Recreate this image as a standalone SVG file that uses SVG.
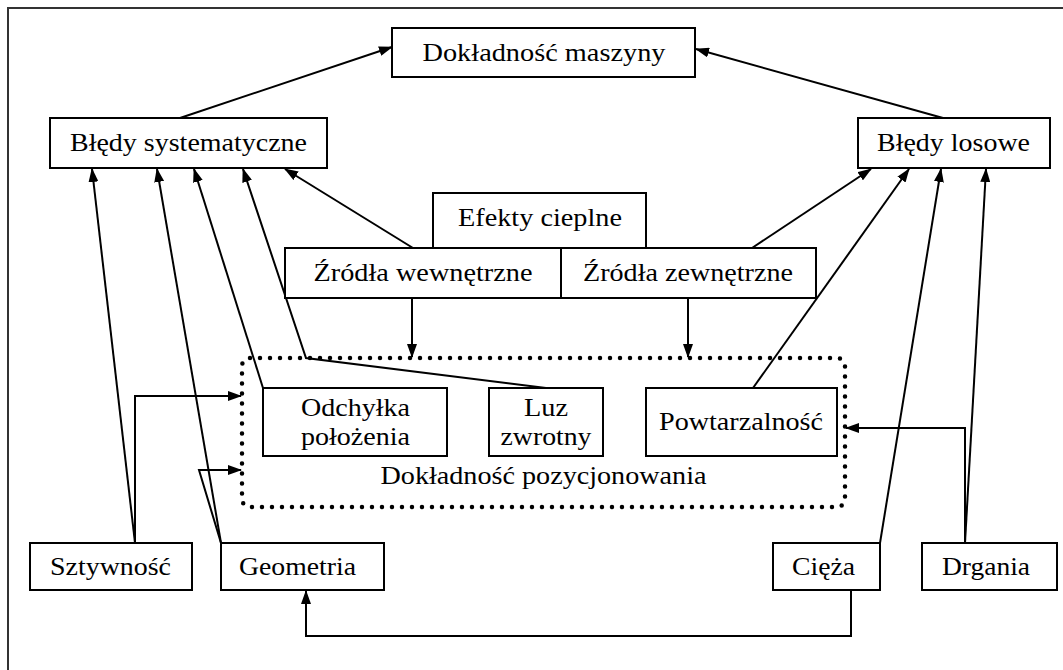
<svg xmlns="http://www.w3.org/2000/svg" width="1063" height="670" viewBox="0 0 1063 670">
<style>
.box{fill:#fff;stroke:#000;stroke-width:2}
text{font-family:'Liberation Serif','Times New Roman','DejaVu Serif',serif;font-size:26px;fill:#000;text-anchor:middle}
.c{fill:none;stroke:#000;stroke-width:2}
.a{marker-end:url(#ah)}
</style>
<defs>
<marker id="ah" markerUnits="userSpaceOnUse" markerWidth="14" markerHeight="10" refX="13" refY="5" orient="auto" viewBox="0 0 14 10">
<path d="M0,0 L14,5 L0,10 z" fill="#000"/>
</marker>
</defs>
<rect width="1063" height="670" fill="#fff"/>
<path d="M8,672 V8 H1066" fill="none" stroke="#333" stroke-width="2"/>

<g id="connectors">
<path class="c a" d="M180,118 L392,47"/>
<path class="c a" d="M943,118 L696,49"/>
<path class="c a" d="M135,543 L92,169"/>
<path class="c a" d="M135,543 V396 H241"/>
<path class="c a" d="M221,543 L157,169"/>
<path class="c a" d="M221,543 L199,470 H241"/>
<path class="c a" d="M263,388 L194,169"/>
<path class="c a" d="M546,388 L306,358 L243,169"/>
<path class="c a" d="M413,248 L285,169"/>
<path class="c a" d="M412,298 V357"/>
<path class="c a" d="M688,298 V357"/>
<path class="c a" d="M752,248 L871,169"/>
<path class="c a" d="M753,388 L909,169"/>
<path class="c a" d="M880,543 L941,169"/>
<path class="c a" d="M965,543 L986,169"/>
<path class="c a" d="M965,543 V428 H846"/>
<path class="c a" d="M851,590 V636 H306 V591"/>
</g>

<g font-family="'Liberation Serif', 'Times New Roman', serif">
<g id="dokladnosc-maszyny">
<rect class="box" x="392" y="28" width="303" height="49"/>
<text x="544" y="61" textLength="243" lengthAdjust="spacingAndGlyphs">Dokładność maszyny</text>
</g>
<g id="bledy-systematyczne">
<rect class="box" x="50" y="118" width="277" height="50"/>
<text x="188.5" y="151" textLength="237" lengthAdjust="spacingAndGlyphs">Błędy systematyczne</text>
</g>
<g id="bledy-losowe">
<rect class="box" x="858" y="118" width="192" height="50"/>
<text x="953.5" y="151" textLength="153" lengthAdjust="spacingAndGlyphs">Błędy losowe</text>
</g>
<g id="efekty-cieplne">
<rect class="box" x="433" y="193" width="213" height="55"/>
<text x="540" y="226" textLength="164" lengthAdjust="spacingAndGlyphs">Efekty cieplne</text>
</g>
<g id="zrodla-wewnetrzne">
<rect class="box" x="285" y="248" width="276" height="50"/>
<text x="423" y="281" textLength="219" lengthAdjust="spacingAndGlyphs">Źródła wewnętrzne</text>
</g>
<g id="zrodla-zewnetrzne">
<rect class="box" x="561" y="248" width="255" height="50"/>
<text x="688" y="281" textLength="210" lengthAdjust="spacingAndGlyphs">Źródła zewnętrzne</text>
</g>
<g id="dokladnosc-pozycjonowania">
<rect x="242" y="358" width="603" height="149" rx="8" fill="none" stroke="#000" stroke-width="4.5" stroke-linecap="round" stroke-dasharray="0 10"/>
<text x="543.5" y="484" textLength="326" lengthAdjust="spacingAndGlyphs">Dokładność pozycjonowania</text>
</g>
<g id="odchylka">
<rect class="box" x="263" y="388" width="184" height="68"/>
<text x="355.5" y="416" textLength="109" lengthAdjust="spacingAndGlyphs">Odchyłka</text>
<text x="355.5" y="445" textLength="109" lengthAdjust="spacingAndGlyphs">położenia</text>
</g>
<g id="luz-zwrotny">
<rect class="box" x="489" y="388" width="114" height="68"/>
<text x="546" y="416" textLength="44" lengthAdjust="spacingAndGlyphs">Luz</text>
<text x="546" y="445" textLength="91" lengthAdjust="spacingAndGlyphs">zwrotny</text>
</g>
<g id="powtarzalnosc">
<rect class="box" x="646" y="388" width="191" height="68"/>
<text x="741" y="430" textLength="164" lengthAdjust="spacingAndGlyphs">Powtarzalność</text>
</g>
<g id="sztywnosc">
<rect class="box" x="30" y="543" width="162" height="47"/>
<text x="110.5" y="575" textLength="121" lengthAdjust="spacingAndGlyphs">Sztywność</text>
</g>
<g id="geometria">
<rect class="box" x="221" y="543" width="163" height="47"/>
<text x="297.5" y="575" textLength="117" lengthAdjust="spacingAndGlyphs">Geometria</text>
</g>
<g id="cieza">
<rect class="box" x="773" y="543" width="107" height="47"/>
<text x="823.5" y="575" textLength="63" lengthAdjust="spacingAndGlyphs">Cięża</text>
</g>
<g id="drgania">
<rect class="box" x="922" y="543" width="135" height="47"/>
<text x="986" y="575" textLength="88" lengthAdjust="spacingAndGlyphs">Drgania</text>
</g>
</g>
</svg>
